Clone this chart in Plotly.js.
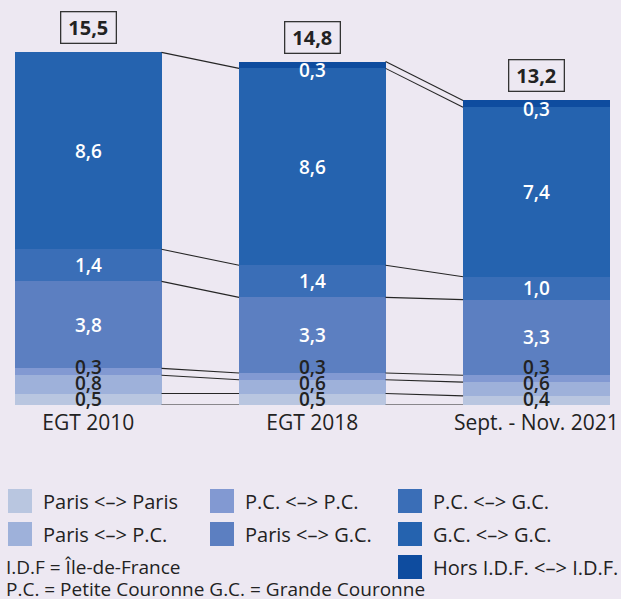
<!DOCTYPE html>
<html><head><meta charset="utf-8">
<script src="https://cdn.plot.ly/plotly-3.0.1.min.js"></script>
<style>html,body{margin:0;padding:0;background:#EDE8F2}</style>
</head><body><div id="chart" style="width:621px;height:599px"></div>
<script>
// ---- data ----
const categories = ['EGT 2010', 'EGT 2018', 'Sept. - Nov. 2021'];
const seriesNames = ['Paris <–> Paris', 'Paris <–> P.C.', 'P.C. <–> P.C.', 'Paris <–> G.C.', 'P.C. <–> G.C.', 'G.C. <–> G.C.', 'Hors I.D.F. <–> I.D.F.'];
const parisParis = [0.5, 0.5, 0.4];
const parisPC    = [0.8, 0.6, 0.6];
const pcPC       = [0.3, 0.3, 0.3];
const parisGC    = [3.8, 3.3, 3.3];
const pcGC       = [1.4, 1.4, 1.0];
const gcGC       = [8.6, 8.6, 7.4];
const horsIDF    = [null, 0.3, 0.3];
const totals     = [15.5, 14.8, 13.2];
const notes = ['I.D.F = Île-de-France', 'P.C. = Petite Couronne G.C. = Grande Couronne'];

// ---- style ----
const series = [parisParis, parisPC, pcPC, parisGC, pcGC, gcGC, horsIDF];
const colors = ['#B9C6E0', '#9EB1DA', '#8299D2', '#5C7FC1', '#3A6EB7', '#2563AF', '#0E4C9F'];
const bg = '#EDE8F2';
const dark = '#222222';
const W = 621, H = 599, T = 20, B = 194;
const plotH = H - T - B;
const pxPerUnit = 22.9;
const yMax = plotH / pxPerUnit;
const barW = 0.654;
const xs = categories.map((c, i) => i);
const fmt = v => v.toFixed(1).replace('.', ',');

const traces = [];
series.forEach((vals, s) => {
  traces.push({
    type: 'bar', x: xs, y: vals, width: barW,
    marker: {color: colors[s], line: {width: 0}},
    name: seriesNames[s], showlegend: false, hoverinfo: 'skip'
  });
});

// cumulative tops
const cum = xs.map(i => {
  const arr = [0];
  series.forEach(vals => arr.push(arr[arr.length - 1] + (vals[i] || 0)));
  return arr;
});

// connector lines
const lx = [], ly = [];
for (let i = 0; i < xs.length - 1; i++) {
  for (let k = 0; k <= series.length; k++) {
    if (k > 0 && (series[k - 1][i] == null || series[k - 1][i + 1] == null)) continue;
    lx.push(i + barW / 2, i + 1 - barW / 2, null);
    ly.push(cum[i][k], cum[i + 1][k], null);
  }
}
traces.push({type: 'scatter', mode: 'lines', x: lx, y: ly, line: {color: '#262626', width: 1.1},
  showlegend: false, hoverinfo: 'skip'});

const annotations = [];
const labelFont = {family: 'Open Sans, sans-serif', size: 19, weight: 600};
xs.forEach(i => {
  let prev = -Infinity;
  const gapU = 16 / pxPerUnit;
  series.forEach((vals, s) => {
    const v = vals[i];
    if (v == null) return;
    let y = (cum[i][s] + cum[i][s + 1]) / 2;
    let shift = 0;
    let color = '#ffffff';
    if (s < 3) {
      y = Math.max(y, 6.5 / pxPerUnit, prev + gapU);
      prev = y;
      color = dark;
    }
    if (s === series.length - 1) shift = -5;
    annotations.push({x: i, y: y, xref: 'x', yref: 'y', text: fmt(v), showarrow: false,
      xanchor: 'center', yanchor: 'middle', yshift: shift,
      font: Object.assign({}, labelFont, {color: color})});
  });
  annotations.push({x: i, y: cum[i][series.length], xref: 'x', yref: 'y', text: fmt(totals[i]),
    showarrow: false, xanchor: 'center', yanchor: 'bottom', yshift: 8,
    bordercolor: '#333', borderwidth: 1.3, borderpad: 1, width: 52, height: 28,
    font: {family: 'Open Sans, sans-serif', size: 20, weight: 700, color: dark}});
});

// manual legend
const px2x = px => px / W;
const px2y = py => (H - B - py) / plotH;
const shapes = [];
const legendSlots = [[8, 489], [8, 522], [210, 489], [210, 522], [398, 489], [398, 522], [398, 555]];
const legFont = {family: 'Open Sans, sans-serif', size: 20, color: dark};
const noteFont = {family: 'Open Sans, sans-serif', size: 19, color: dark};
seriesNames.forEach((n, s) => {
  const [sx, sy] = legendSlots[s];
  shapes.push({type: 'rect', xref: 'paper', yref: 'paper', x0: px2x(sx), x1: px2x(sx + 24),
    y0: px2y(sy), y1: px2y(sy + 24), fillcolor: colors[s], line: {width: 0}});
  annotations.push({xref: 'paper', yref: 'paper', x: px2x(sx + 33), y: px2y(sy + 12),
    xanchor: 'left', yanchor: 'middle', showarrow: false, text: n, font: legFont});
});
notes.forEach((t, j) => {
  annotations.push({xref: 'paper', yref: 'paper', x: px2x(4), y: px2y([567, 589][j]),
    xanchor: 'left', yanchor: 'middle', showarrow: false, text: t, font: noteFont});
});

const layout = {
  width: W, height: H,
  margin: {l: 0, r: 0, t: T, b: B},
  paper_bgcolor: bg, plot_bgcolor: bg,
  barmode: 'stack', bargap: 0,
  xaxis: {range: [-0.394, 2.378], tickvals: xs, ticktext: categories, showgrid: false,
    zeroline: false, showline: false, ticks: '', ticklabelstandoff: 3,
    tickfont: {family: 'Open Sans, sans-serif', size: 21, color: dark}},
  yaxis: {range: [0, yMax], visible: false, showgrid: false, zeroline: false},
  annotations: annotations, shapes: shapes, showlegend: false
};
Plotly.newPlot('chart', traces, layout, {staticPlot: true, displayModeBar: false});
</script></body></html>
